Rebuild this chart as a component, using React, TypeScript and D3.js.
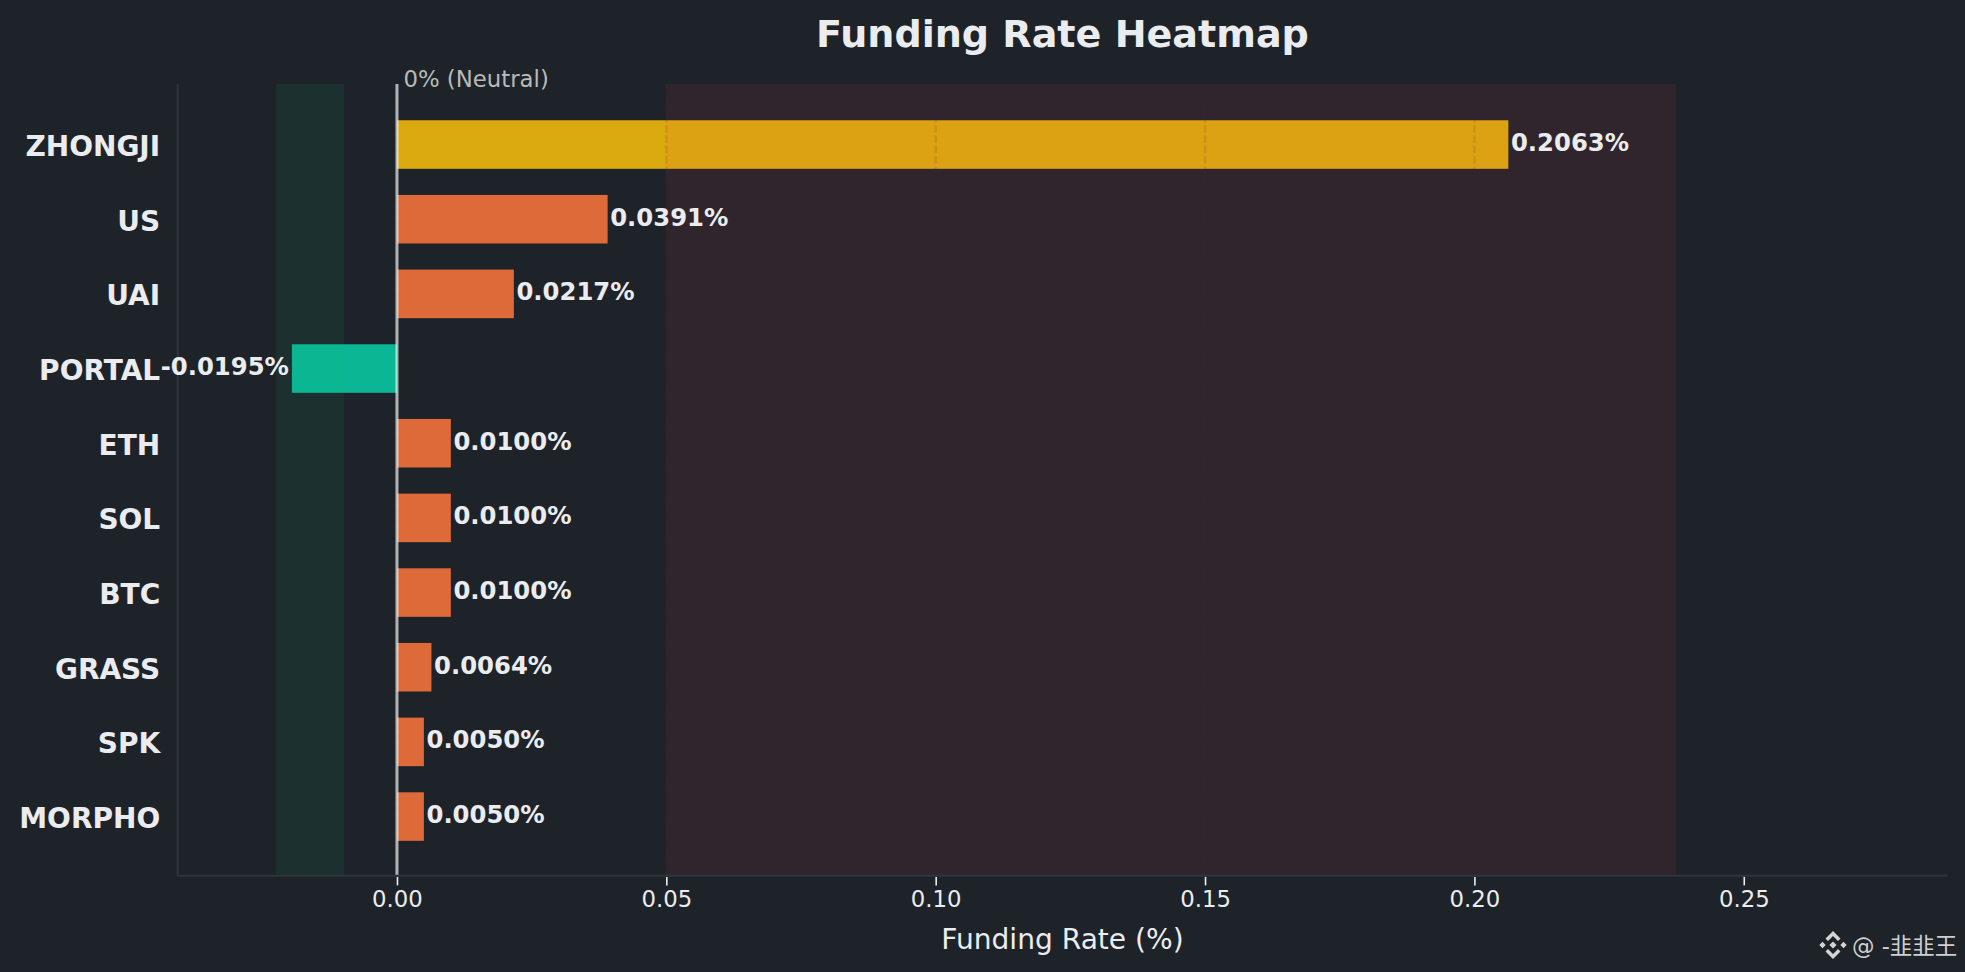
import { useEffect, useRef } from "react";
import * as d3 from "d3";

const WIDTH = 1965;
const HEIGHT = 972;

const categories = ["ZHONGJI", "US", "UAI", "PORTAL", "ETH", "SOL", "BTC", "GRASS", "SPK", "MORPHO"];
const rates = [0.2063, 0.0391, 0.0217, -0.0195, 0.01, 0.01, 0.01, 0.0064, 0.005, 0.005];
const xTicks = [0, 0.05, 0.1, 0.15, 0.2, 0.25];
const gridTicks = [0, 0.05, 0.1, 0.15, 0.2, 0.25];
const xDomain = [-0.0407, 0.2878];
const greenZone = [-0.0224, -0.0098];
const redZone = [0.0499, 0.2374];

const BG = "#1e2329";
const FONT = "'DejaVu Sans', sans-serif";

const barColor = (v: number) => {
  if (v < 0) return "#09c7a1";
  if (v > 0.05) return "#f0b90b";
  return "#f4723b";
};

export default function App() {
  const svgRef = useRef<SVGSVGElement>(null);

  useEffect(() => {
    if (!svgRef.current) return;
    document.body.style.margin = "0";
    document.body.style.background = BG;

    const svg = d3.select(svgRef.current);
    svg.selectAll("*").remove();

    const margin = { top: 84, right: 17.6, bottom: 96.3, left: 177.7 };
    const bottom = HEIGHT - margin.bottom;
    const right = WIDTH - margin.right;

    const x = d3.scaleLinear().domain(xDomain).range([margin.left, right]);
    const y = d3
      .scaleBand<string>()
      .domain(categories)
      .range([107.2, 853.9])
      .paddingInner(0.35)
      .paddingOuter(0.175);

    svg.append("rect").attr("width", WIDTH).attr("height", HEIGHT).attr("fill", BG);

    // bars go first, the zones and the grid sit on top of them
    svg
      .append("g")
      .selectAll("rect")
      .data(rates)
      .join("rect")
      .attr("x", (d) => Math.min(x(0), x(d)))
      .attr("y", (_, i) => y(categories[i]) as number)
      .attr("width", (d) => Math.abs(x(d) - x(0)))
      .attr("height", y.bandwidth())
      .attr("fill", (d) => barColor(d))
      .attr("fill-opacity", 0.9);

    const zones = [
      { range: greenZone, color: "#0ecb81", opacity: 0.08 },
      { range: redZone, color: "#f6465d", opacity: 0.085 },
    ];
    svg
      .append("g")
      .selectAll("rect")
      .data(zones)
      .join("rect")
      .attr("x", (d) => x(d.range[0]))
      .attr("y", margin.top)
      .attr("width", (d) => x(d.range[1]) - x(d.range[0]))
      .attr("height", bottom - margin.top)
      .attr("fill", (d) => d.color)
      .attr("fill-opacity", (d) => d.opacity);

    // grid is only really visible where it crosses the yellow bar
    svg
      .append("g")
      .selectAll("line")
      .data(gridTicks)
      .join("line")
      .attr("x1", (d) => x(d))
      .attr("x2", (d) => x(d))
      .attr("y1", margin.top)
      .attr("y2", bottom)
      .attr("stroke", "#2b3139")
      .attr("stroke-opacity", 0.12)
      .attr("stroke-width", 2.5)
      .attr("stroke-dasharray", "7.5,2.8");

    // Zero line
    svg
      .append("line")
      .attr("x1", x(0))
      .attr("x2", x(0))
      .attr("y1", margin.top)
      .attr("y2", bottom)
      .attr("stroke", "#ffffff")
      .attr("stroke-opacity", 0.65)
      .attr("stroke-width", 3);

    svg
      .append("text")
      .attr("x", x(0) + 6.5)
      .attr("y", 87)
      .attr("font-family", FONT)
      .attr("font-size", 22.8)
      .attr("fill", "#b7bab9")
      .text("0% (Neutral)");

    // Spines
    const spines = svg.append("g").attr("stroke", "#2f353c").attr("stroke-width", 2).attr("fill", "none");
    spines.append("path").attr("d", `M${margin.left},${margin.top}V${bottom}H${right}`);

    // X axis
    const xAxis = svg
      .append("g")
      .attr("transform", `translate(0, ${bottom + 1.2})`)
      .call(
        d3
          .axisBottom(x)
          .tickValues(xTicks)
          .tickSize(8.5)
          .tickPadding(5.5)
          .tickFormat((d) => (d as number).toFixed(2))
      );
    xAxis.select(".domain").remove();
    xAxis.selectAll("line").attr("stroke", "#eaecef").attr("stroke-width", 1.6);
    xAxis
      .selectAll("text")
      .attr("fill", "#eaecef")
      .attr("font-family", FONT)
      .attr("font-size", 22.8);

    // Y axis labels
    const yAxis = svg
      .append("g")
      .attr("transform", `translate(${margin.left}, 2.5)`)
      .call(d3.axisLeft(y).tickSize(0).tickPadding(17.5));
    yAxis.select(".domain").remove();
    yAxis
      .selectAll("text")
      .attr("fill", "#eaecef")
      .attr("font-family", FONT)
      .attr("font-weight", "bold")
      .attr("font-size", 28);

    // Value labels
    svg
      .append("g")
      .selectAll("text")
      .data(rates)
      .join("text")
      .attr("x", (d) => (d < 0 ? x(d) - 3 : x(d) + 2.6))
      .attr("y", (_, i) => (y(categories[i]) as number) + y.bandwidth() / 2 - 2)
      .attr("dy", "0.35em")
      .attr("text-anchor", (d) => (d < 0 ? "end" : "start"))
      .attr("font-family", FONT)
      .attr("font-weight", "bold")
      .attr("font-size", 24.3)
      .attr("fill", "#eaecef")
      .text((d) => `${d.toFixed(4)}%`);

    svg
      .append("text")
      .attr("x", 1062.5)
      .attr("y", 47)
      .attr("text-anchor", "middle")
      .attr("font-family", FONT)
      .attr("font-weight", "bold")
      .attr("font-size", 38.1)
      .attr("fill", "#eaecef")
      .text("Funding Rate Heatmap");

    svg
      .append("text")
      .attr("x", 1062.5)
      .attr("y", 949)
      .attr("text-anchor", "middle")
      .attr("font-family", FONT)
      .attr("font-size", 28.1)
      .attr("fill", "#eaecef")
      .text("Funding Rate (%)");

    // Watermark: logo made of small diamonds plus the handle
    const logo = svg.append("g").attr("transform", "translate(1833, 945)").attr("fill", "#d4d4d4");
    const diamond = (cx: number, cy: number, r: number) =>
      logo.append("path").attr("d", `M${cx - r},${cy}L${cx},${cy - r}L${cx + r},${cy}L${cx},${cy + r}Z`);
    diamond(0, 0, 3.6);
    diamond(-10.5, 0, 3.2);
    diamond(10.5, 0, 3.2);
    logo
      .append("path")
      .attr("d", "M0,-14L7.5,-6.5L5,-4L0,-9L-5,-4L-7.5,-6.5Z");
    logo
      .append("path")
      .attr("d", "M0,14L7.5,6.5L5,4L0,9L-5,4L-7.5,6.5Z");

    svg
      .append("text")
      .attr("x", 1852)
      .attr("y", 954)
      .attr("font-family", "'DejaVu Sans', 'Noto Sans CJK SC', sans-serif")
      .attr("font-size", 22.5)
      .attr("fill", "#cfcfcf")
      .text("@ -韭韭王");
  }, []);

  return <svg ref={svgRef} width={WIDTH} height={HEIGHT} style={{ display: "block" }} />;
}
